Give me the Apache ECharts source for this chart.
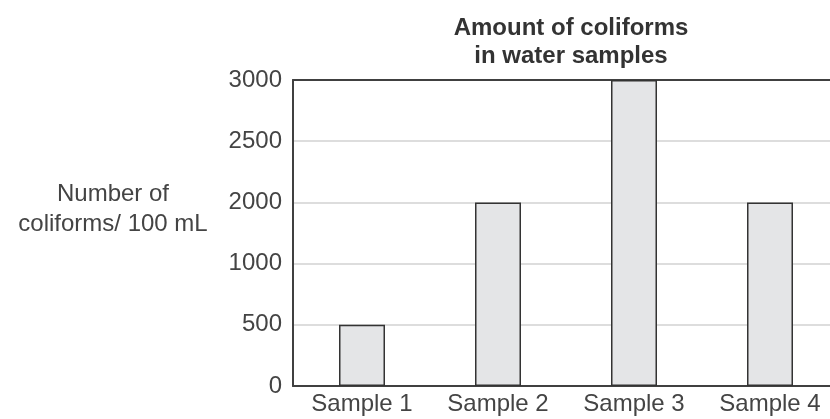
<!DOCTYPE html>
<html>
<head>
<meta charset="utf-8">
<script src="https://cdn.jsdelivr.net/npm/echarts@6/dist/echarts.min.js"></script>
<style>
  html, body { margin: 0; padding: 0; background: #fff; }
  #chart { width: 830px; height: 419px; }
</style>
</head>
<body>
<div id="chart"></div>
<script>
// values
const categories = ['Sample 1', 'Sample 2', 'Sample 3', 'Sample 4'];
const coliforms = [500, 2000, 3000, 2000];
// the y axis is drawn with evenly spaced (uneven) tick labels
const tickLabels = [0, 500, 1000, 2000, 2500, 3000];

// position of each value on the evenly spaced tick scale
const barPos = coliforms.map(v => tickLabels.indexOf(v));

const chart = echarts.init(document.getElementById('chart'));
const font = 'Liberation Sans, Arial, sans-serif';
const dark = '#404040';

chart.setOption({
    animation: false,
    backgroundColor: '#fff',
    title: [
        {
            text: 'Amount of coliforms\nin water samples',
            left: 566, top: 9, textAlign: 'center',
            textStyle: { fontFamily: font, fontSize: 24, fontWeight: 'bold', color: '#333', lineHeight: 28 }
        },
        {
            text: 'Number of\ncoliforms/ 100 mL',
            left: 108, top: 174, textAlign: 'center',
            textStyle: { fontFamily: font, fontSize: 24, fontWeight: 'normal', color: '#444', lineHeight: 30 }
        }
    ],
    grid: [
        // frame + y labels
        { left: 293, right: 0, top: 80, bottom: 33, outerBoundsMode: 'none' },
        // bars + category labels (bands run a little past the right edge)
        { left: 294, right: -8, top: 80, bottom: 33, outerBoundsMode: 'none' }
    ],
    xAxis: [
        {
            gridIndex: 0, type: 'value', min: 0, max: 1,
            axisLine: { show: true, onZero: false, lineStyle: { color: dark, width: 2 } },
            axisTick: { show: false }, axisLabel: { show: false }, splitLine: { show: false }
        },
        {
            gridIndex: 0, type: 'value', position: 'top', min: 0, max: 1,
            axisLine: { show: true, onZero: false, lineStyle: { color: dark, width: 2 } },
            axisTick: { show: false }, axisLabel: { show: false }, splitLine: { show: false }
        },
        {
            gridIndex: 1, type: 'category', data: categories,
            axisLine: { show: false }, axisTick: { show: false },
            axisLabel: { fontFamily: font, fontSize: 24, color: '#444', margin: 6 }
        }
    ],
    yAxis: [
        {
            gridIndex: 0, type: 'value', min: 0, max: tickLabels.length - 1, interval: 1,
            axisLine: { show: true, onZero: false, lineStyle: { color: dark, width: 2 } },
            axisTick: { show: false },
            axisLabel: {
                fontFamily: font, fontSize: 24, color: '#444', margin: 11,
                formatter: v => tickLabels[v]
            },
            splitLine: { showMinLine: false, showMaxLine: false, lineStyle: { color: '#d2d2d2', width: 1.5 } }
        },
        {
            gridIndex: 1, type: 'value', min: 0, max: tickLabels.length - 1,
            show: false
        }
    ],
    series: [
        {
            type: 'bar', xAxisIndex: 2, yAxisIndex: 1,
            data: barPos, barWidth: 46,
            itemStyle: { color: '#e4e5e7', borderColor: '#333', borderWidth: 1.5 }
        }
    ]
});
</script>
</body>
</html>
